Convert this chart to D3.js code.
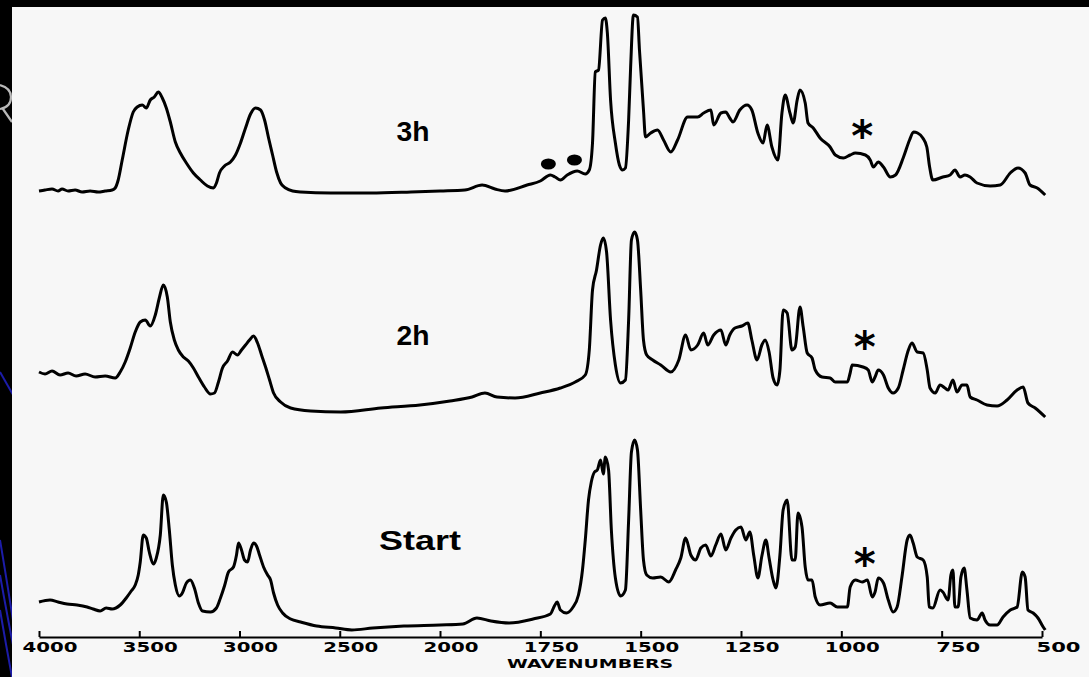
<!DOCTYPE html>
<html>
<head>
<meta charset="utf-8">
<script src="https://cdn.jsdelivr.net/npm/d3@7"></script>
<style>
html, body { margin: 0; padding: 0; background: #000; overflow: hidden; }
</style>
</head>
<body>
<div id="spectra"></div>
<script>
// IR spectra, [wavenumber (cm-1), absorbance above own baseline]
var spectrum_3h = [
	[4000, 0.09], [3970, 0.10], [3935, 0.11], [3905, 0.09], [3885, 0.11], [3855, 0.09],
	[3820, 0.10], [3785, 0.08], [3745, 0.09], [3705, 0.08], [3670, 0.09], [3635, 0.10],
	[3620, 0.12], [3605, 0.20], [3585, 0.40], [3555, 0.70], [3530, 0.88], [3510, 0.93],
	[3485, 0.95], [3465, 0.92], [3445, 1.00], [3425, 1.03], [3405, 1.08], [3385, 1.02],
	[3365, 0.92], [3345, 0.78], [3320, 0.58], [3295, 0.47], [3265, 0.37], [3230, 0.27],
	[3195, 0.20], [3160, 0.14], [3130, 0.12], [3115, 0.17], [3100, 0.27], [3075, 0.34],
	[3045, 0.38], [3020, 0.45], [2995, 0.57], [2970, 0.72], [2945, 0.86], [2920, 0.92],
	[2895, 0.90], [2875, 0.80], [2855, 0.62], [2835, 0.45], [2815, 0.28], [2795, 0.17],
	[2770, 0.12], [2735, 0.09], [2695, 0.08], [2545, 0.07], [2345, 0.07], [2145, 0.08],
	[2000, 0.09], [1938, 0.10], [1895, 0.15], [1863, 0.11], [1838, 0.09], [1783, 0.15],
	[1750, 0.19], [1725, 0.25], [1713, 0.23], [1700, 0.20], [1683, 0.25], [1658, 0.29],
	[1638, 0.26], [1628, 0.30], [1620, 0.57], [1613, 1.28], [1605, 1.30], [1595, 1.80],
	[1588, 1.82], [1583, 1.67], [1575, 1.00], [1563, 0.57], [1553, 0.35], [1545, 0.30],
	[1538, 0.32], [1530, 0.80], [1525, 1.33], [1518, 1.85], [1508, 1.83], [1503, 1.50],
	[1493, 0.90], [1488, 0.63], [1475, 0.67], [1458, 0.70], [1443, 0.60], [1425, 0.48],
	[1408, 0.60], [1383, 0.83], [1358, 0.83], [1343, 0.87], [1325, 0.90], [1318, 0.75],
	[1300, 0.87], [1288, 0.88], [1278, 0.82], [1270, 0.78], [1253, 0.90], [1235, 0.95],
	[1223, 0.90], [1208, 0.67], [1195, 0.57], [1185, 0.75], [1173, 0.53], [1158, 0.40],
	[1148, 0.87], [1140, 1.05], [1128, 0.87], [1120, 0.77], [1110, 1.00], [1103, 1.10],
	[1090, 0.97], [1083, 0.77], [1070, 0.72], [1053, 0.62], [1028, 0.53], [1015, 0.45],
	[995, 0.42], [978, 0.45], [965, 0.47], [940, 0.45], [928, 0.40], [920, 0.33],
	[908, 0.38], [895, 0.33], [878, 0.23], [865, 0.25], [845, 0.43], [830, 0.60],
	[820, 0.68], [810, 0.67], [797, 0.62], [787, 0.53], [780, 0.33], [772, 0.20],
	[747, 0.23], [729, 0.25], [717, 0.30], [704, 0.23], [692, 0.25], [679, 0.23],
	[662, 0.17], [629, 0.14], [604, 0.15], [579, 0.27], [560, 0.32], [542, 0.27],
	[530, 0.15], [512, 0.12], [492, 0.05]
];

var spectrum_2h = [
	[4000, 0.48], [3970, 0.46], [3935, 0.49], [3895, 0.45], [3855, 0.47], [3815, 0.44],
	[3770, 0.46], [3720, 0.43], [3670, 0.44], [3620, 0.42], [3595, 0.48], [3570, 0.58],
	[3545, 0.72], [3520, 0.88], [3495, 0.98], [3470, 1.00], [3445, 0.94], [3420, 1.05],
	[3400, 1.22], [3380, 1.35], [3360, 1.23], [3345, 0.98], [3325, 0.80], [3305, 0.70],
	[3280, 0.63], [3255, 0.59], [3230, 0.52], [3205, 0.43], [3175, 0.33], [3145, 0.26],
	[3125, 0.27], [3105, 0.38], [3085, 0.52], [3060, 0.59], [3035, 0.68], [3010, 0.65],
	[2990, 0.70], [2970, 0.75], [2950, 0.80], [2930, 0.84], [2910, 0.77], [2890, 0.65],
	[2870, 0.53], [2850, 0.40], [2830, 0.27], [2795, 0.18], [2745, 0.12], [2645, 0.09],
	[2495, 0.08], [2295, 0.12], [2100, 0.15], [1975, 0.19], [1920, 0.23], [1888, 0.27],
	[1858, 0.23], [1813, 0.22], [1750, 0.27], [1700, 0.32], [1663, 0.38], [1638, 0.45],
	[1628, 0.70], [1620, 1.30], [1610, 1.50], [1600, 1.75], [1593, 1.82], [1585, 1.68],
	[1575, 1.00], [1563, 0.55], [1550, 0.37], [1538, 0.40], [1530, 1.00], [1523, 1.80],
	[1515, 1.88], [1508, 1.80], [1500, 1.30], [1493, 0.80], [1485, 0.65], [1470, 0.60],
	[1450, 0.55], [1425, 0.48], [1405, 0.60], [1388, 0.85], [1375, 0.70], [1358, 0.75],
	[1343, 0.87], [1333, 0.75], [1318, 0.85], [1300, 0.90], [1288, 0.75], [1278, 0.85],
	[1265, 0.92], [1248, 0.94], [1233, 0.97], [1223, 0.80], [1210, 0.60], [1198, 0.75],
	[1190, 0.80], [1180, 0.68], [1170, 0.42], [1160, 0.35], [1153, 0.50], [1145, 1.10],
	[1135, 1.07], [1123, 0.70], [1115, 0.73], [1103, 1.13], [1095, 0.93], [1085, 0.67],
	[1073, 0.62], [1065, 0.50], [1048, 0.43], [1028, 0.42], [1015, 0.38], [985, 0.38],
	[978, 0.47], [973, 0.55], [946, 0.53], [933, 0.50], [923, 0.38], [916, 0.43],
	[908, 0.50], [895, 0.45], [883, 0.32], [871, 0.27], [858, 0.32], [846, 0.50],
	[833, 0.70], [824, 0.77], [811, 0.68], [796, 0.67], [786, 0.50], [779, 0.32],
	[766, 0.27], [754, 0.35], [742, 0.32], [734, 0.30], [722, 0.40], [712, 0.28],
	[699, 0.35], [687, 0.35], [679, 0.23], [662, 0.20], [637, 0.15], [612, 0.14],
	[587, 0.20], [562, 0.30], [547, 0.33], [535, 0.17], [517, 0.12], [492, 0.03]
];

var spectrum_start = [
	[4000, 0.38], [3945, 0.40], [3905, 0.38], [3860, 0.36], [3810, 0.35], [3760, 0.33],
	[3730, 0.31], [3695, 0.29], [3665, 0.32], [3635, 0.31], [3595, 0.35], [3565, 0.42],
	[3540, 0.49], [3520, 0.55], [3505, 0.65], [3495, 0.78], [3480, 1.05], [3465, 1.02],
	[3450, 0.88], [3430, 0.76], [3415, 0.82], [3395, 1.05], [3380, 1.45], [3365, 1.38],
	[3350, 1.10], [3335, 0.75], [3320, 0.55], [3300, 0.44], [3285, 0.47], [3265, 0.57],
	[3245, 0.60], [3225, 0.52], [3205, 0.37], [3185, 0.29], [3145, 0.28], [3115, 0.32],
	[3095, 0.42], [3075, 0.54], [3055, 0.68], [3030, 0.73], [3015, 0.85], [3005, 0.97],
	[2990, 0.90], [2975, 0.80], [2960, 0.78], [2945, 0.90], [2930, 0.97], [2915, 0.94],
	[2900, 0.85], [2880, 0.73], [2860, 0.65], [2845, 0.60], [2830, 0.47], [2810, 0.35],
	[2785, 0.27], [2745, 0.21], [2695, 0.18], [2615, 0.14], [2520, 0.12], [2440, 0.10],
	[2335, 0.12], [2180, 0.14], [2000, 0.15], [1943, 0.16], [1908, 0.22], [1873, 0.19],
	[1828, 0.17], [1768, 0.21], [1725, 0.26], [1715, 0.34], [1708, 0.38], [1700, 0.30],
	[1685, 0.27], [1670, 0.32], [1655, 0.45], [1645, 0.70], [1638, 1.00], [1630, 1.40],
	[1623, 1.58], [1615, 1.68], [1608, 1.70], [1600, 1.80], [1593, 1.66], [1588, 1.83],
	[1580, 1.70], [1573, 1.10], [1563, 0.62], [1550, 0.44], [1538, 0.50], [1530, 1.20],
	[1523, 1.88], [1515, 2.00], [1508, 1.90], [1500, 1.30], [1493, 0.80], [1485, 0.65],
	[1470, 0.62], [1450, 0.63], [1430, 0.58], [1413, 0.70], [1400, 0.82], [1388, 1.02],
	[1375, 0.85], [1363, 0.80], [1350, 0.92], [1338, 0.95], [1325, 0.84], [1313, 0.95],
	[1300, 1.06], [1288, 0.90], [1275, 1.02], [1263, 1.10], [1250, 1.13], [1238, 1.00],
	[1228, 1.08], [1218, 0.84], [1208, 0.62], [1198, 0.84], [1188, 1.00], [1180, 0.82],
	[1170, 0.60], [1163, 0.52], [1153, 0.85], [1145, 1.30], [1135, 1.40], [1123, 0.80],
	[1115, 0.80], [1108, 1.27], [1098, 1.13], [1090, 0.73], [1083, 0.60], [1073, 0.60],
	[1065, 0.43], [1053, 0.35], [1028, 0.37], [1010, 0.33], [985, 0.33], [978, 0.53],
	[965, 0.60], [948, 0.58], [935, 0.60], [923, 0.43], [916, 0.48], [908, 0.62],
	[895, 0.57], [883, 0.40], [871, 0.28], [861, 0.33], [849, 0.63], [836, 1.00],
	[829, 1.05], [821, 0.97], [811, 0.83], [796, 0.80], [786, 0.63], [781, 0.33],
	[772, 0.32], [754, 0.50], [747, 0.48], [734, 0.40], [727, 0.65], [722, 0.70],
	[717, 0.33], [709, 0.33], [702, 0.63], [694, 0.72], [687, 0.50], [679, 0.22],
	[662, 0.20], [649, 0.27], [642, 0.20], [629, 0.15], [612, 0.15], [597, 0.23],
	[579, 0.30], [562, 0.33], [549, 0.68], [542, 0.63], [535, 0.30], [522, 0.27],
	[510, 0.22], [497, 0.13], [492, 0.10]
];

var series_names = ['3h', '2h', 'Start'];
var series_offsets = [4.4, 2.2, 0];
var tick_values = [4000, 3500, 3000, 2500, 2000, 1750, 1500, 1250, 1000, 750, 500];

var chart_width = 1089;
var chart_height = 677;

var svg = d3.select('#spectra')
			.append('svg')
			.attr('width', chart_width)
			.attr('height', chart_height)
			.style('display', 'block');

// dark slide background with the blue swooshes on the left
svg.append('rect')
   .attr('width', chart_width)
   .attr('height', chart_height)
   .attr('fill', '#000');

var swoosh = [
	'M0,372 Q8,386 16,400',
	'M0,540 Q10,600 16,640',
	'M0,575 Q8,620 16,660',
	'M0,610 Q6,645 12,677'
];
svg.selectAll('.swoosh')
   .data(swoosh)
   .enter()
   .append('path')
   .attr('class', 'swoosh')
   .attr('d', function(d){ return d; })
   .attr('fill', 'none')
   .attr('stroke', '#1c1ca8')
   .attr('stroke-width', 2);

// bit of a slide title letter peeking out on the left
svg.append('path')
   .attr('d', 'M0,85 Q11,88 11,97 Q11,107 0,109 M3,109 L12,122')
   .attr('fill', 'none')
   .attr('stroke', '#b8b8b8')
   .attr('stroke-width', 2.2);

// white paper
svg.append('rect')
   .attr('x', 12)
   .attr('y', 7)
   .attr('width', chart_width - 12)
   .attr('height', chart_height - 7)
   .attr('fill', '#f7f7f7');

// scales, the spectrometer doubles the scale below 2000 cm-1
var x_scale = d3.scaleLinear()
				.domain([4000, 2000, 500])
				.range([39, 440, 1042]);
var y_scale = d3.scaleLinear()
				.domain([0, 6])
				.range([640, 40]);

// axis
var x_axis = d3.axisBottom(x_scale)
			   .tickValues(tick_values)
			   .tickFormat(d3.format('d'))
			   .tickSize(-6)
			   .tickSizeOuter(0)
			   .tickPadding(5);

var axis_g = svg.append('g')
   .attr('class', 'x-axis')
   .attr('transform', 'translate(0,637)')
   .call(x_axis);

axis_g.select('.domain').attr('stroke', '#000').attr('stroke-width', 2.2);
axis_g.selectAll('.tick line').attr('stroke', '#000').attr('stroke-width', 2);
axis_g.selectAll('.tick text')
	  .attr('fill', '#000')
	  .attr('font-family', 'DejaVu Sans, sans-serif')
	  .attr('font-weight', 'bold')
	  .attr('font-size', 14)
	  .attr('text-anchor', 'end')
	  .attr('dx', 38)
	  .attr('textLength', function(d){ return String(d).length > 3 ? 55 : 44; })
	  .attr('lengthAdjust', 'spacingAndGlyphs');

svg.append('text')
   .attr('x', 590)
   .attr('y', 668)
   .attr('text-anchor', 'middle')
   .attr('font-family', 'DejaVu Sans, sans-serif')
   .attr('font-weight', 'bold')
   .attr('font-size', 12)
   .attr('textLength', 166)
   .attr('lengthAdjust', 'spacingAndGlyphs')
   .text('WAVENUMBERS');

// spectra
var all_spectra = [spectrum_3h, spectrum_2h, spectrum_start];

all_spectra.forEach(function(spec, i){
	var line = d3.line()
				 .x(function(d){ return x_scale(d[0]); })
				 .y(function(d){ return y_scale(d[1] + series_offsets[i]); })
				 .curve(d3.curveMonotoneX);
	svg.append('path')
	   .datum(spec)
	   .attr('d', line)
	   .attr('fill', 'none')
	   .attr('stroke', '#000')
	   .attr('stroke-width', 3)
	   .attr('stroke-linejoin', 'round');
});

// trace labels
var label_wn = [2135, 2135, 2100];
var label_height = [0.59, 0.75, 0.90];
svg.selectAll('.trace-label')
   .data(series_names)
   .enter()
   .append('text')
   .attr('class', 'trace-label')
   .attr('x', function(d, i){ return x_scale(label_wn[i]); })
   .attr('y', function(d, i){ return y_scale(label_height[i] + series_offsets[i]); })
   .attr('text-anchor', 'middle')
   .attr('font-family', 'Liberation Sans, Arial, sans-serif')
   .attr('font-size', 27)
   .attr('font-weight', 'bold')
   .attr('textLength', function(d){ return d.length > 2 ? 82 : 33; })
   .attr('lengthAdjust', 'spacingAndGlyphs')
   .text(function(d){ return d; });

// the two carbonyl dots on the 3h trace
var dot_wn = [1730, 1665];
svg.selectAll('.dot')
   .data(dot_wn)
   .enter()
   .append('ellipse')
   .attr('class', 'dot')
   .attr('cx', function(d){ return x_scale(d); })
   .attr('cy', function(d, i){ return y_scale(series_offsets[0] + (i === 0 ? 0.36 : 0.40)); })
   .attr('rx', 7.5)
   .attr('ry', 5.5)
   .attr('fill', '#000');

// asterisks near 950 cm-1
var star_height = [0.68, 0.77, 0.80];
svg.selectAll('.star')
   .data(series_offsets)
   .enter()
   .append('text')
   .attr('class', 'star')
   .attr('x', function(d, i){ return x_scale(i === 0 ? 948 : 942); })
   .attr('y', function(d, i){ return y_scale(star_height[i] + d) + 19; })
   .attr('text-anchor', 'middle')
   .attr('font-family', 'DejaVu Sans, sans-serif')
   .attr('font-weight', 'bold')
   .attr('font-size', 42)
   .text('*');
</script>
</body>
</html>
